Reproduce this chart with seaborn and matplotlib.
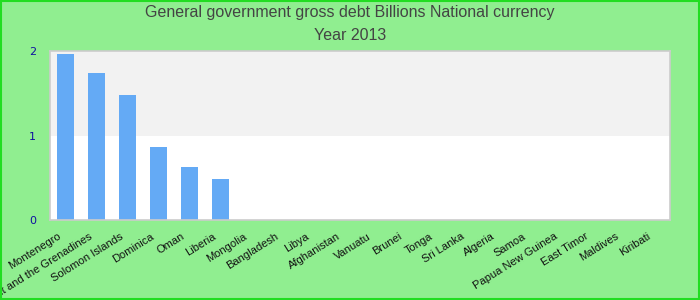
import matplotlib
matplotlib.use("Agg")
import matplotlib.pyplot as plt
import matplotlib.transforms as mtrans
import seaborn as sns
import pandas as pd
from matplotlib.patches import Rectangle

countries = ["Montenegro", "Saint Vincent and the Grenadines", "Solomon Islands", "Dominica",
             "Oman", "Liberia", "Mongolia", "Bangladesh", "Libya", "Afghanistan", "Vanuatu",
             "Brunei", "Tonga", "Sri Lanka", "Algeria", "Samoa", "Papua New Guinea",
             "East Timor", "Maldives", "Kiribati"]
debt = [1.96, 1.74, 1.48, 0.86, 0.63, 0.485, 0, 0, 0, 0, 0, 0, 0, 0, 0, 0, 0, 0, 0, 0]
yticks = [0, 1, 2]
title_lines = ["General government gross debt Billions National currency", "Year 2013"]

df = pd.DataFrame({"country": countries, "debt": debt})

sns.set_theme(style="white")
plt.rcParams["font.family"] = ["Liberation Sans", "DejaVu Sans"]

fig = plt.figure(figsize=(7, 3), dpi=100, facecolor="#90ee90")
ax = fig.add_axes([50 / 700, 1 - 220 / 300, 620 / 700, 169 / 300])
ax.set_facecolor("white")
ax.axhspan(1, 2, color="#f2f2f2", zorder=0, lw=0)

sns.barplot(data=df, x="country", y="debt", color="#64aaf5", width=0.55,
            saturation=1, ax=ax, zorder=2, linewidth=0, edgecolor="none")

ax.set_ylim(0, 2)
ax.set_xlim(-0.5, len(countries) - 0.5)
ax.set_yticks(yticks)
ax.set_yticklabels([str(t) for t in yticks], color="#1010a0", fontsize=8, family="DejaVu Sans")
ax.tick_params(axis="y", length=0, pad=10)
ax.tick_params(axis="x", length=0, pad=8)
ax.set_xticks(range(len(countries)))
ax.set_xticklabels(countries, rotation=32, ha="right", rotation_mode="anchor",
                   fontsize=8, color="#111111")
offset = mtrans.ScaledTranslation(-8 / 100, 0, fig.dpi_scale_trans)
for lbl in ax.get_xticklabels():
    lbl.set_transform(lbl.get_transform() + offset)
ax.set_xlabel("")
ax.set_ylabel("")
for s in ax.spines.values():
    s.set_color("#cccccc")
    s.set_linewidth(1.2)

fig.text(0.5, 1 - 13 / 300, title_lines[0], ha="center", va="center", fontsize=11.5, color="#444444")
fig.text(0.5, 1 - 36 / 300, title_lines[1], ha="center", va="center", fontsize=11.5, color="#444444")

fig.patches.append(Rectangle((0.001, 0.002), 0.998, 0.996, transform=fig.transFigure,
                             fill=False, edgecolor="#22dd22", linewidth=1.5, figure=fig))

fig.savefig("out.png", dpi=100, facecolor=fig.get_facecolor())
